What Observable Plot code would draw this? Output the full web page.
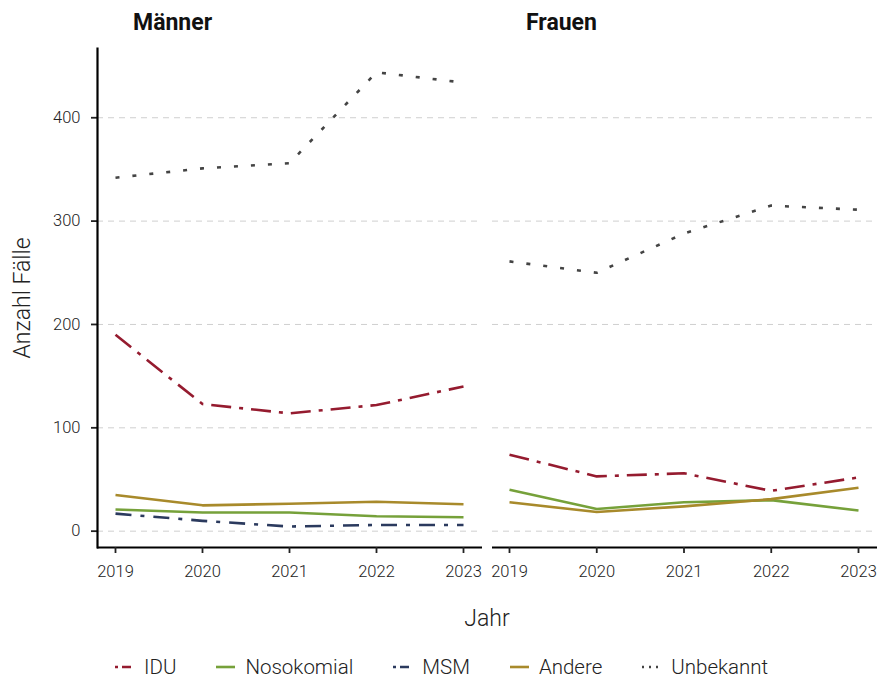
<!DOCTYPE html>
<html>
<head>
<meta charset="utf-8">
<script src="https://cdn.jsdelivr.net/npm/d3@7"></script>
<script src="https://cdn.jsdelivr.net/npm/@observablehq/plot@0.6"></script>
<style>
  body { margin: 0; background: #fff; font-family: Roboto, "Noto Sans", sans-serif; color: #222; font-weight: 300; }
  #wrap { position: relative; width: 877px; height: 680px; overflow: hidden; }
  .ptitle { position: absolute; top: 9px; font-weight: bold; font-size: 23px; color: #111; }
  #ylab { position: absolute; left: 22px; top: 298px; transform: translate(-50%, -50%) rotate(-90deg); font-size: 23px; white-space: nowrap; color: #222; }
  #xlab { position: absolute; left: 487px; top: 618px; transform: translate(-50%, -50%); font-size: 23px; color: #222; }
  #legend { position: absolute; top: 655px; left: 115px; display: flex; align-items: center; gap: 40px; font-size: 20.5px; color: #222; }
  .item { display: flex; align-items: center; gap: 10px; }
  .panel { position: absolute; top: 40px; }
</style>
</head>
<body>
<div id="wrap">
  <div class="ptitle" id="t0" style="left:133px"></div>
  <div class="ptitle" id="t1" style="left:526px"></div>
  <div id="p0" class="panel" style="left:0px"></div>
  <div id="p1" class="panel" style="left:491px"></div>
  <div id="ylab"></div>
  <div id="xlab"></div>
  <div id="legend"></div>
</div>
<script>
// ---- data ----
const years = [2019, 2020, 2021, 2022, 2023];
const sexes = ["Männer", "Frauen"];
const groups = ["IDU", "Nosokomial", "MSM", "Andere", "Unbekannt"];
const yTicks = [0, 100, 200, 300, 400];

const maennerIDU        = [190, 123, 114, 122, 140];
const maennerNosokomial = [21, 18, 18, 14.5, 13.5];
const maennerMSM        = [17, 10, 4.5, 6, 6];
const maennerAndere     = [35, 25, 26.5, 28.5, 26];
const maennerUnbekannt  = [342, 351, 356, 444, 434];

const frauenIDU         = [74, 53, 56, 39, 52];
const frauenNosokomial  = [40, 21.5, 28, 30, 20];
const frauenAndere      = [28, 18.5, 24, 31, 42];
const frauenUnbekannt   = [261, 250, 288, 315, 311];

const yLabel = "Anzahl Fälle";
const xLabel = "Jahr";

// ---- styles ----
const colors = {IDU: "#951b2f", Nosokomial: "#76a13a", MSM: "#2b3a5e", Andere: "#a88a2b", Unbekannt: "#444444"};
const dashes = {IDU: "20,8,4,8", Nosokomial: null, MSM: "16,9,4,9", Andere: null, Unbekannt: "4,13"};

const seriesBySex = {
  "Männer": {IDU: maennerIDU, Nosokomial: maennerNosokomial, MSM: maennerMSM, Andere: maennerAndere, Unbekannt: maennerUnbekannt},
  "Frauen": {IDU: frauenIDU, Nosokomial: frauenNosokomial, Andere: frauenAndere, Unbekannt: frauenUnbekannt}
};

const yDomain = [-15.8, 467];
const font = "Roboto, 'Noto Sans', sans-serif";

function panel(sex, cfg) {
  const ser = seriesBySex[sex];
  const rows = [];
  for (const g of groups) {
    if (!ser[g]) continue;
    ser[g].forEach((v, i) => rows.push({sex, group: g, year: years[i], value: v}));
  }
  const lineMarks = groups.filter(g => ser[g]).map(g =>
    Plot.line(rows.filter(r => r.group === g), {
      x: "year", y: "value", stroke: colors[g], strokeWidth: 2.6,
      strokeDasharray: dashes[g] || undefined, strokeLinecap: "butt", strokeLinejoin: "round"
    })
  );
  const marks = [
    Plot.gridY(yTicks, {stroke: "#cfcfcf", strokeOpacity: 1, strokeDasharray: "6,5", strokeWidth: 1}),
    ...lineMarks,
    Plot.ruleY([yDomain[0]], {stroke: "#000", strokeWidth: 2.2}),
    Plot.axisX(years, {tickSize: 6, tickPadding: 12, tickFormat: "d", label: null, strokeWidth: 1.8, fill: "#222"})
  ];
  if (cfg.showY) {
    marks.push(Plot.axisY(yTicks, {tickSize: 6, tickPadding: 11, label: null, strokeWidth: 1.8, fill: "#222"}));
    marks.push(Plot.frame({anchor: "left", stroke: "#000", strokeWidth: 2.2}));
  }
  return Plot.plot({
    width: cfg.width, height: 547,
    marginTop: 8, marginBottom: 40, marginLeft: cfg.ml, marginRight: cfg.mr,
    x: {domain: [2019, 2023], insetLeft: cfg.il, insetRight: cfg.ir, axis: null},
    y: {domain: yDomain, axis: null},
    style: {fontFamily: font, fontSize: "16.5px", fontWeight: 300, color: "#222", background: "transparent", overflow: "visible"},
    marks
  });
}

document.getElementById("p0").append(panel("Männer", {width: 483, ml: 97, mr: 1, il: 18, ir: 19, showY: true}));
document.getElementById("p1").append(panel("Frauen", {width: 386, ml: 1, mr: 0, il: 17, ir: 19, showY: false}));
document.getElementById("t0").textContent = sexes[0];
document.getElementById("t1").textContent = sexes[1];
document.getElementById("ylab").textContent = yLabel;
document.getElementById("xlab").textContent = xLabel;

// legend
const legendDash = {IDU: "3,4,9,4", Nosokomial: null, MSM: "3,4,9,4", Andere: null, Unbekannt: "2,5"};
const leg = document.getElementById("legend");
for (const g of groups) {
  const it = document.createElement("div");
  it.className = "item";
  const ns = "http://www.w3.org/2000/svg";
  const s = document.createElementNS(ns, "svg");
  s.setAttribute("width", 19); s.setAttribute("height", 10);
  const l = document.createElementNS(ns, "line");
  l.setAttribute("x1", 0); l.setAttribute("x2", 19); l.setAttribute("y1", 5); l.setAttribute("y2", 5);
  l.setAttribute("stroke", colors[g]); l.setAttribute("stroke-width", 2.6);
  if (legendDash[g]) l.setAttribute("stroke-dasharray", legendDash[g]);
  s.append(l);
  const t = document.createElement("span");
  t.textContent = g;
  it.append(s, t);
  leg.append(it);
}
</script>
</body>
</html>
